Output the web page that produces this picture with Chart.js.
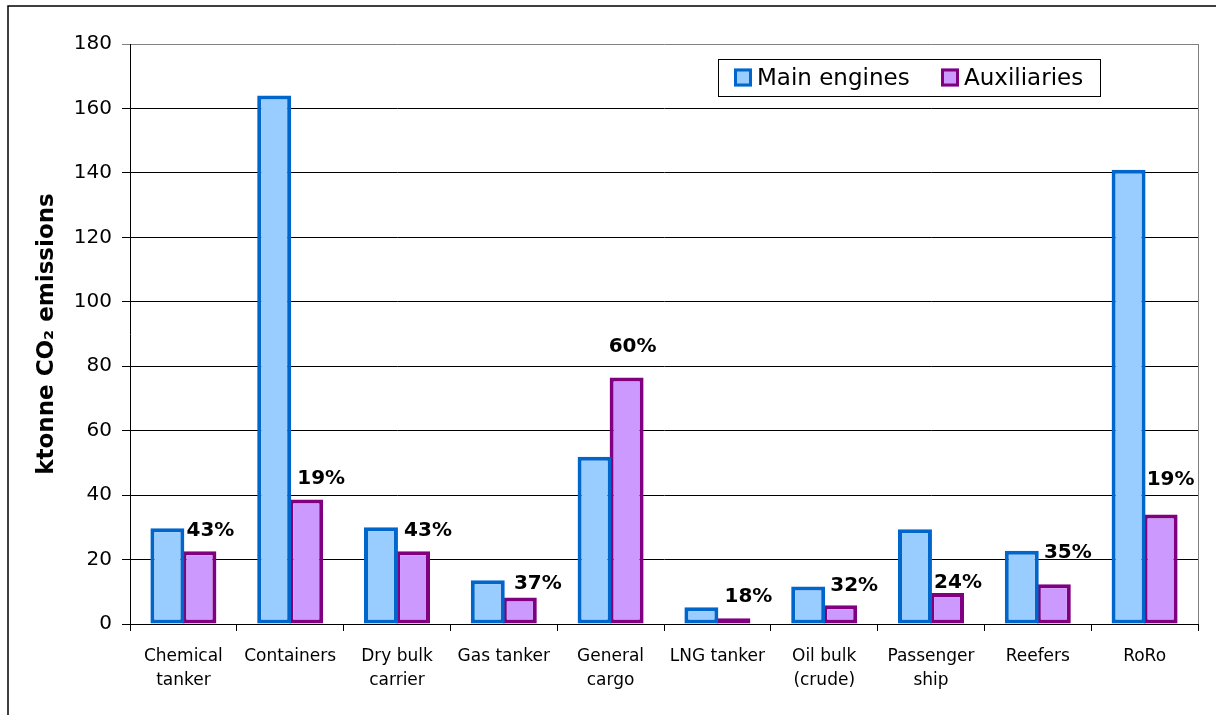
<!DOCTYPE html>
<html>
<head>
<meta charset="utf-8">
<script src="https://cdn.jsdelivr.net/npm/chart.js@4"></script>
<style>
    html, body { margin: 0; padding: 0; background: #ffffff; }
    #wrap { width: 1216px; height: 715px; position: relative; }
</style>
</head>
<body>
<div id="wrap"><canvas id="shipChart" width="1216" height="715"></canvas></div>
<script>
// Chart data
const shipTypes = [
    ['Chemical', 'tanker'], 'Containers', ['Dry bulk', 'carrier'], 'Gas tanker',
    ['General', 'cargo'], 'LNG tanker', ['Oil bulk', '(crude)'], ['Passenger', 'ship'],
    'Reefers', 'RoRo'
];
const mainEngines = [29.7, 164.0, 30.0, 13.6, 51.9, 5.2, 11.6, 29.4, 22.7, 141.0];
const auxiliaries = [22.6, 38.6, 22.6, 8.2, 76.5, 1.8, 5.8, 9.6, 12.3, 34.0];
const auxShare = ['43%', '19%', '43%', '37%', '60%', '18%', '32%', '24%', '35%', '19%'];
const yTicks = [0, 20, 40, 60, 80, 100, 120, 140, 160, 180];

const FONT = "'DejaVu Sans', Verdana, sans-serif";

// Frame, plot border, legend box and the share labels
const decorations = {
    id: 'decorations',
    afterDatasetsDraw(chart, args, opts) {
        const ctx = chart.ctx;
        const area = chart.chartArea;
        ctx.save();

        // outer frame (only left and top edges visible)
        ctx.strokeStyle = '#000000';
        ctx.lineWidth = 1.5;
        ctx.beginPath();
        ctx.moveTo(8, 715);
        ctx.lineTo(8, 6);
        ctx.lineTo(1216, 6);
        ctx.stroke();

        // plot area right edge
        ctx.strokeStyle = '#808080';
        ctx.lineWidth = 1;
        ctx.beginPath();
        ctx.moveTo(area.right + 0.5, area.top);
        ctx.lineTo(area.right + 0.5, area.bottom);
        ctx.stroke();

        // share labels above the auxiliaries bars
        const meta = chart.getDatasetMeta(1);
        ctx.fillStyle = '#000000';
        ctx.font = 'bold 20px ' + FONT;
        ctx.textAlign = 'center';
        ctx.textBaseline = 'alphabetic';
        meta.data.forEach((bar, i) => {
            const off = opts.offsets[i];
            ctx.fillText(auxShare[i], bar.x + off[0], bar.y + off[1] + 7);
        });

        // legend
        const lg = opts.legend;
        ctx.fillStyle = '#ffffff';
        ctx.fillRect(lg.x, lg.y, lg.w, lg.h);
        ctx.strokeStyle = '#000000';
        ctx.lineWidth = 1;
        ctx.strokeRect(lg.x + 0.5, lg.y + 0.5, lg.w, lg.h);
        ctx.font = '23px ' + FONT;
        ctx.textAlign = 'left';
        ctx.textBaseline = 'middle';
        chart.data.datasets.forEach((ds, i) => {
            const sx = lg.items[i];
            const cy = lg.y + lg.h / 2;
            ctx.fillStyle = ds.backgroundColor;
            ctx.fillRect(sx, cy - 9, 18, 18);
            ctx.strokeStyle = ds.borderColor;
            ctx.lineWidth = 3;
            ctx.strokeRect(sx + 1.5, cy - 7.5, 15, 15);
            ctx.fillStyle = '#000000';
            ctx.fillText(ds.label, sx + 23, cy + 2);
        });

        ctx.restore();
    }
};

document.addEventListener('DOMContentLoaded', function() {
    const ctx = document.getElementById('shipChart').getContext('2d');
    new Chart(ctx, {
        type: 'bar',
        data: {
            labels: shipTypes,
            datasets: [{
                label: 'Main engines',
                data: mainEngines,
                backgroundColor: '#99CCFF',
                borderColor: '#0066CC',
                borderWidth: 4,
                borderSkipped: false
            }, {
                label: 'Auxiliaries',
                data: auxiliaries,
                backgroundColor: '#CC99FF',
                borderColor: '#800080',
                borderWidth: 4,
                borderSkipped: false
            }]
        },
        options: {
            responsive: false,
            animation: false,
            devicePixelRatio: 1,
            layout: {
                padding: { left: 8, right: 18, top: 44, bottom: 0 }
            },
            datasets: {
                bar: {
                    categoryPercentage: 0.6,
                    barPercentage: 1.06
                }
            },
            plugins: {
                legend: { display: false },
                tooltip: { enabled: false },
                decorations: {
                    offsets: [[11, -22], [15, -23], [15, -22], [18, -16], [6, -33],
                              [15, -23], [14, -21], [11, -12], [14, -33], [10, -36]],
                    legend: { x: 718, y: 59, w: 382, h: 37, items: [734, 941] }
                }
            },
            scales: {
                x: {
                    grid: {
                        offset: true,
                        drawOnChartArea: false,
                        drawTicks: true,
                        tickLength: 7,
                        color: '#000000'
                    },
                    border: { color: '#000000', width: 1 },
                    ticks: {
                        color: '#000000',
                        font: { family: FONT, size: 17, lineHeight: 1.45 },
                        padding: 13,
                        maxRotation: 0,
                        autoSkip: false
                    },
                    afterFit: function(scale) {
                        scale.height = 91;
                    }
                },
                y: {
                    min: 0,
                    max: 180,
                    afterBuildTicks: function(scale) {
                        scale.ticks = yTicks.map(v => ({ value: v }));
                    },
                    grid: {
                        color: function(c) {
                            return c.tick && c.tick.value === 180 ? '#808080' : '#000000';
                        },
                        tickLength: 8,
                        lineWidth: 1
                    },
                    border: { color: '#000000', width: 1 },
                    ticks: {
                        color: '#000000',
                        font: { family: FONT, size: 20 },
                        padding: 10
                    },
                    title: {
                        display: true,
                        text: 'ktonne CO₂ emissions',
                        color: '#000000',
                        font: { family: FONT, size: 23, weight: 'bold' },
                        padding: { top: 25, bottom: 0 }
                    },
                    afterFit: function(scale) {
                        scale.width = 122;
                    }
                }
            }
        },
        plugins: [decorations]
    });
});
</script>
</body>
</html>
